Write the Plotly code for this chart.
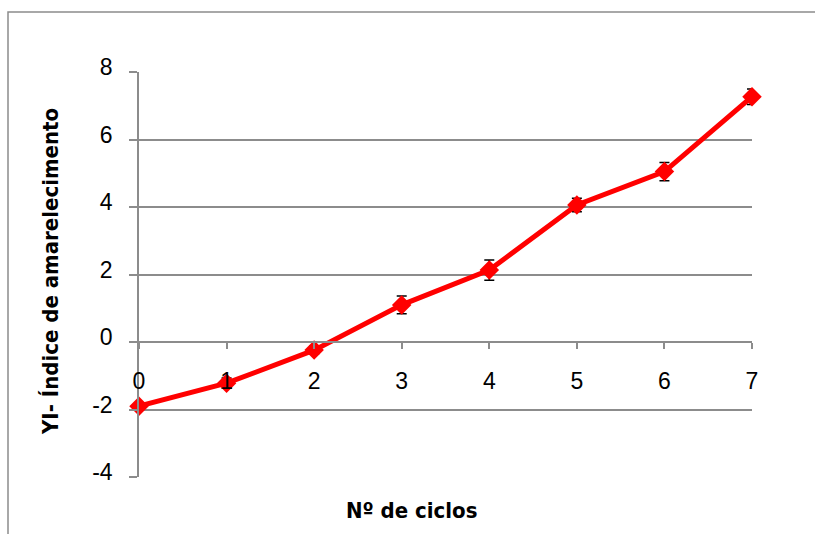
import plotly.graph_objects as go

ciclos = [0, 1, 2, 3, 4, 5, 6, 7]
yi = [-1.90, -1.22, -0.24, 1.10, 2.13, 4.06, 5.05, 7.27]
yi_err = [0.10, 0.15, 0.12, 0.26, 0.30, 0.20, 0.27, 0.23]
y_ticks = [-4, -2, 0, 2, 4, 6, 8]

W, H = 815, 534
L, T = 139, 72
RIGHT, BOTTOM = 752, 477
R, B = W - RIGHT, H - BOTTOM
pw, ph = RIGHT - L, BOTTOM - T

def px(x):
    return (x - L) / pw

def py(y):
    return (BOTTOM - y) / ph

grey = "#8c8c8c"
font = "Liberation Sans"
tfont = "DejaVu Sans Condensed, Liberation Sans"

fig = go.Figure()
fig.add_trace(go.Scatter(
    x=ciclos, y=yi, mode="lines+markers",
    line=dict(color="#ff0000", width=5),
    marker=dict(symbol="diamond", size=15, color="#ff0000"),
    error_y=dict(type="data", array=yi_err, visible=True, color="black", thickness=1.5, width=5),
    cliponaxis=False, showlegend=False,
))

fig.update_layout(
    width=W, height=H,
    margin=dict(l=L, r=R, t=T, b=B),
    paper_bgcolor="white", plot_bgcolor="white",
    font=dict(family=font, size=23, color="black"),
    xaxis=dict(range=[0, 7], tickmode="array", tickvals=ciclos, ticktext=[str(c) for c in ciclos],
               anchor="free", position=1/3, showline=True, linecolor=grey, linewidth=1.5,
               ticks="outside", ticklen=6, tickcolor=grey, tickwidth=1.5,
               tickfont=dict(family=font, size=23),
               showgrid=False, zeroline=False, ticklabelstandoff=13),
    yaxis=dict(range=[-4, 8], tickmode="array", tickvals=y_ticks, ticktext=[str(v) for v in y_ticks],
               showline=True, linecolor=grey, linewidth=1.5,
               ticks="outside", ticklen=8, tickcolor=grey, tickwidth=1.5,
               tickfont=dict(family=font, size=23),
               showgrid=True, gridcolor=grey, gridwidth=1.5, zeroline=False,
               ticklabelstandoff=12, ticklabelshift=-5),
    shapes=[dict(type="rect", xref="paper", yref="paper",
                 x0=px(8), x1=px(900), y0=py(600), y1=py(12),
                 line=dict(color=grey, width=1.5), fillcolor="rgba(0,0,0,0)", layer="below")],
    annotations=[
        dict(text="<b>Nº de ciclos</b>", xref="paper", yref="paper", x=px(412), y=py(510),
             showarrow=False, font=dict(family=tfont, size=22),
             xanchor="center", yanchor="middle"),
        dict(text="<b>YI- Índice de amarelecimento</b>", xref="paper", yref="paper", x=px(50), y=py(272),
             showarrow=False, textangle=-90, font=dict(family=tfont, size=22),
             xanchor="center", yanchor="middle"),
    ],
)

fig.write_html("out.html", config={"displayModeBar": False},
               post_script="document.body.style.margin='0';document.body.style.overflow='hidden';")
